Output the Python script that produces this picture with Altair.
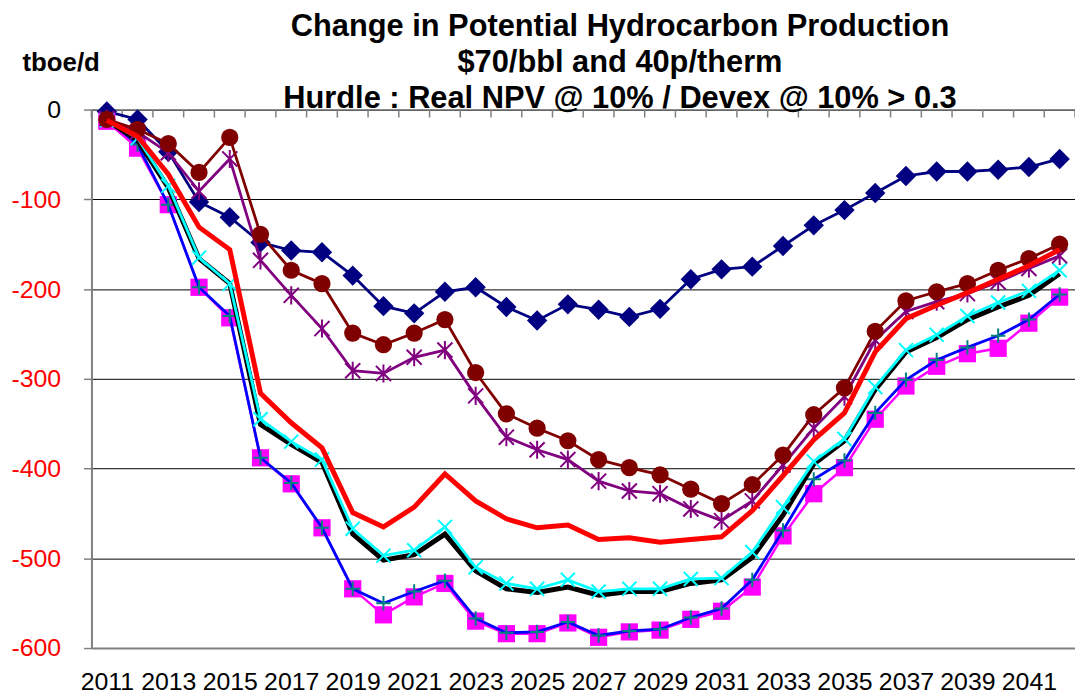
import altair as alt
import pandas as pd

years = list(range(2011, 2043))
label_years = list(range(2011, 2042, 2))
boundaries = [y - 0.5 for y in range(2011, 2044)]
y_ticks = [-600, -500, -400, -300, -200, -100, 0]

title_lines = [
    "Change in Potential Hydrocarbon Production",
    "$70/bbl and 40p/therm",
    "Hurdle : Real NPV @ 10% / Devex @ 10% > 0.3",
]
unit_label = "tboe/d"

navy_diamond = [-2, -11, -47, -103, -120, -148, -157, -159, -185, -219, -227, -203, -198, -220, -235, -217,
                -223, -231, -222, -189, -178, -175, -152, -129, -112, -93, -74, -69, -69, -67, -64, -55]
darkred_circle = [-11, -22, -38, -70, -31, -139, -179, -194, -249, -262, -249, -234, -293, -339, -355, -369,
                  -390, -399, -407, -423, -439, -418, -385, -340, -310, -247, -213, -203, -194, -179, -166, -150]
purple_star = [-10, -25, -48, -91, -55, -168, -207, -244, -291, -294, -276, -268, -319, -365, -379, -390,
               -414, -425, -428, -445, -458, -436, -396, -355, -320, -257, -225, -214, -205, -192, -177, -163]
red_line = [-12, -30, -72, -131, -156, -316, -349, -377, -449, -465, -443, -406, -436, -456, -466, -463,
            -479, -477, -482, -479, -476, -447, -408, -368, -338, -270, -233, -218, -204, -189, -174, -156]
black_line = [-12, -34, -87, -166, -194, -351, -373, -393, -473, -502, -496, -473, -514, -534, -538, -532,
              -541, -537, -537, -528, -524, -499, -452, -395, -369, -312, -270, -254, -234, -220, -207, -183]
cyan_x = [-12, -32, -85, -165, -194, -345, -370, -390, -467, -497, -491, -465, -510, -528, -534, -524,
          -537, -534, -534, -523, -522, -493, -443, -392, -367, -309, -268, -251, -230, -215, -202, -179]
blue_plus = [-10, -39, -106, -198, -230, -388, -416, -466, -534, -550, -537, -525, -567, -583, -582, -571,
             -586, -581, -579, -566, -556, -524, -469, -412, -391, -338, -301, -279, -265, -252, -234, -206]
magenta_square = [-13, -43, -106, -198, -232, -388, -417, -466, -534, -563, -543, -528, -570, -584, -584, -572,
                  -588, -582, -580, -568, -559, -532, -475, -428, -399, -345, -308, -286, -272, -266, -238, -209]

FONT = "Liberation Sans"
PLUS = "M-1,0L1,0M0,-1L0,1"
XMARK = "M-1,-1L1,1M-1,1L1,-1"
STAR = "M-1,-1L1,1M-1,1L1,-1M0,-1.2L0,1.2"

X = alt.X(
    "year:Q",
    scale=alt.Scale(domain=[2010.5, 2042.5], nice=False, zero=False),
    axis=alt.Axis(values=label_years, labelExpr="'' + datum.value", title=None, grid=False,
                  ticks=False, tickSize=0, domain=False, labelFontSize=25, labelFont=FONT,
                  labelPadding=22, labelColor="black", labelFlush=False, labelOverlap=False),
)
Y = alt.Y(
    "value:Q",
    scale=alt.Scale(domain=[-600, 0], nice=False, zero=False),
    axis=alt.Axis(values=y_ticks, labelExpr="'' + datum.value", title=unit_label, titleAngle=0,
                  titleX=-31, titleY=-47, titleAlign="center", titleBaseline="middle",
                  titleFontSize=26, titleFontWeight="bold", titleFont=FONT, titleColor="black",
                  labelFontSize=25, labelFont=FONT,
                  labelColor=alt.condition("datum.value < 0", alt.value("#ff0000"), alt.value("#000000")),
                  labelPadding=23, tickSize=8, tickColor="#808080", tickWidth=1.5,
                  domainColor="#808080", domainWidth=2, grid=True,
                  gridColor=alt.condition("datum.value === -600", alt.value("#808080"), alt.value("#000000")),
                  gridWidth=alt.condition("datum.value === -600", alt.value(2), alt.value(1)),
                  gridOpacity=1),
)


def frame(vals):
    return pd.DataFrame({"year": years, "value": vals})


def series_layers(vals, color, width, shape=None, size=None, filled=True, mcolor=None, mwidth=2):
    df = frame(vals)
    out = [alt.Chart(df).mark_line(color=color, strokeWidth=width).encode(x=X, y=Y)]
    if shape is not None:
        mc = mcolor or color
        if filled:
            pt = alt.Chart(df).mark_point(shape=shape, size=size, filled=True, color=mc, opacity=1)
        else:
            pt = alt.Chart(df).mark_point(shape=shape, size=size, filled=False, color=mc,
                                          strokeWidth=mwidth, opacity=1)
        out.append(pt.encode(x=X, y=Y))
    return out


tick_df = pd.DataFrame({"year": boundaries})
ticks = alt.Chart(tick_df).mark_rule(color="#808080", strokeWidth=1.5).encode(
    x=X, y=alt.value(0), y2=alt.value(8)
)

layers = [ticks]
layers += series_layers(navy_diamond, "#000080", 2.8, "diamond", 420)
layers += series_layers(magenta_square, "#ff00ff", 2.5, "square", 300)
layers += series_layers(blue_plus, "#0000ff", 2.8, PLUS, 210, filled=False, mcolor="#008080", mwidth=2)
layers += series_layers(black_line, "#000000", 5)
layers += series_layers(cyan_x, "#00ffff", 2.8, XMARK, 200, filled=False, mwidth=2)
layers += series_layers(purple_star, "#800080", 2.8, STAR, 230, filled=False, mwidth=2)
layers += series_layers(darkred_circle, "#800000", 2.8, "circle", 300)
layers += series_layers(red_line, "#ff0000", 5)

chart = alt.layer(*layers).properties(
    width=990,
    height=542,
    padding={"left": 84, "top": 100, "right": 0, "bottom": 45},
    autosize=alt.AutoSizeParams(type="none"),
    title=alt.TitleParams(text=title_lines, fontSize=31, font=FONT, fontWeight="bold",
                          lineHeight=36, anchor="middle", dx=37, dy=69, color="black"),
).configure_view(stroke=None).configure(font=FONT)

chart.save("out.html", embed_options={"renderer": "svg", "actions": False})
